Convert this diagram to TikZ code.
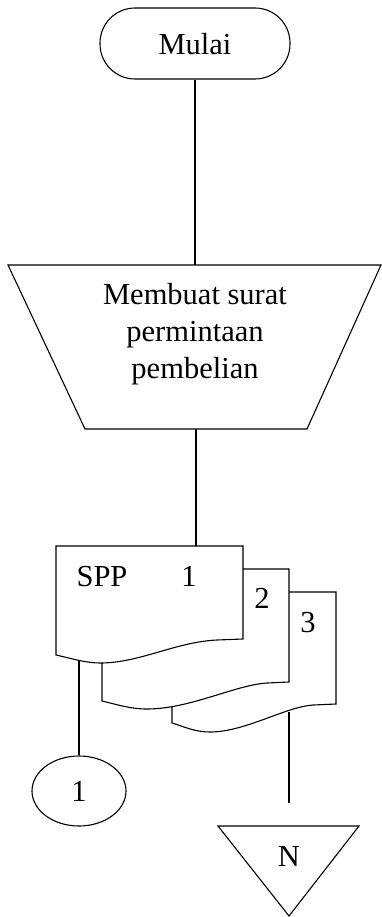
\documentclass[tikz,border=0pt]{standalone}
\usepackage{fontspec}
\setmainfont{Liberation Serif}
\usetikzlibrary{shapes.geometric}
\begin{document}
\begin{tikzpicture}[x=1pt,y=-1pt,
  line width=1.1pt,
  every node/.style={font=\fontsize{30.5}{37}\selectfont, inner sep=0pt},
  shapeline/.style={draw=black, line width=1.1pt},
  docshape/.style={draw=black, fill=white, line width=1.1pt},
  conn/.style={draw=black, line width=1.1pt}]
\useasboundingbox (0,0) rectangle (381,917);

% terminal
\node[shapeline, rounded corners=35pt, minimum width=190pt, minimum height=71pt] (mulai) at (195,43.5) {};
\node[anchor=base] (mulaitxt) at (195,55) {Mulai};

% manual operation (trapezium)
\draw[shapeline] (8,265) -- (381,265) -- (307,429) -- (85,429) -- cycle;
\coordinate (tzTop) at (195,265);
\coordinate (tzBot) at (196,429);
\node[align=center] (proc) at (195,334) {Membuat surat\\permintaan\\pembelian};

% documents (back to front)
\path[docshape] (172,592) -- (336,592) -- (336,704) -- (313,705)
  .. controls (285,707) and (245,732) .. (210,732)
  .. controls (195,732) and (185,727) .. (172,723) -- cycle;
\path[docshape] (102,569) -- (289,569) -- (289,682) -- (267,683)
  .. controls (235,685) and (190,709) .. (147,709)
  .. controls (130,709) and (115,704) .. (102,701) -- cycle;
\path[docshape] (56,546) -- (243,546) -- (243,639) -- (217,640)
  .. controls (175,642) and (140,663) .. (100,663)
  .. controls (85,663) and (70,658) .. (56,655) -- cycle;
\coordinate (docTop) at (196,546);
\coordinate (doc1Bot) at (79,661);
\coordinate (doc3Bot) at (289,712);
\node[anchor=base] (spp) at (102,586) {SPP};
\node[anchor=base] (n1) at (189,586) {1};
\node[anchor=base] (n2) at (262,608) {2};
\node[anchor=base] (n3) at (308,632) {3};

% connector circle
\node[ellipse, shapeline, minimum width=94pt, minimum height=70pt] (c1) at (79,791) {1};

% offline storage triangle
\draw[shapeline] (218,826) -- (359,826) -- (289,916) -- cycle;
\coordinate (triTop) at (289,826);
\node (ntxt) at (289,857) {N};
\coordinate (nEnd) at (289,803);

% connectors
\draw[conn] (mulai.south) -- (tzTop);
\draw[conn] (tzBot) -- (docTop);
\draw[conn] (doc1Bot) -- (c1.north);
\draw[conn] (doc3Bot) -- (nEnd);
\end{tikzpicture}
\end{document}
